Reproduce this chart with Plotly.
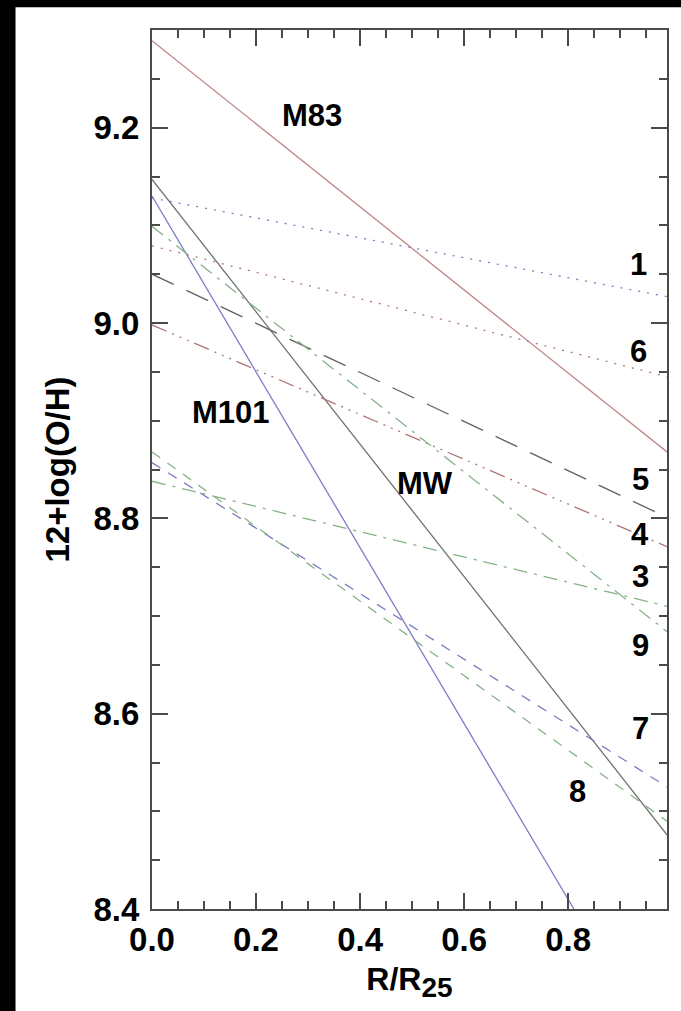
import plotly.graph_objects as go

# ---- data (straight gradients, value at inner and outer radius) ----
x_span = [0.0, 0.99]
m83 = [9.289, 8.868]
mw = [9.147, 8.476]
m101_x = [0.0, 0.811]
m101 = [9.130, 8.40]
g1 = [9.128, 9.027]
g6 = [9.079, 8.945]
g5 = [9.050, 8.801]
g4 = [8.998, 8.771]
g9 = [9.099, 8.684]
g3 = [8.838, 8.710]
g7 = [8.857, 8.525]
g8 = [8.868, 8.490]

label_text = ["M83", "M101", "MW", "1", "6", "5", "4", "3", "9", "7", "8"]
label_x = [0.308, 0.152, 0.524, 0.935, 0.935, 0.939, 0.939, 0.939, 0.939, 0.939, 0.818]
label_y = [9.212, 8.908, 8.836, 9.060, 8.971, 8.840, 8.783, 8.740, 8.670, 8.585, 8.520]

x_ticks = [0.0, 0.2, 0.4, 0.6, 0.8]
y_ticks = [8.4, 8.6, 8.8, 9.0, 9.2]

RED = "#c08585"
GRAY = "#707070"
BLUE = "#7c7cc4"
GREEN = "#86b286"
DRED = "#b07676"
AX = "#4a4a4a"
FONT = "Liberation Sans, Arial"

series = [
    (x_span, m83, RED, "solid"),
    (x_span, mw, GRAY, "solid"),
    (m101_x, m101, BLUE, "solid"),
    (x_span, g1, BLUE, "2px,7px"),
    (x_span, g6, DRED, "2px,7px"),
    (x_span, g5, "#606060", "24px,14px"),
    (x_span, g4, DRED, "16px,6px,2px,6px,2px,6px,2px,6px"),
    (x_span, g9, GREEN, "14px,7px,3px,7px"),
    (x_span, g3, GREEN, "14px,7px,3px,7px"),
    (x_span, g7, BLUE, "10px,9px"),
    (x_span, g8, GREEN, "10px,9px"),
]

fig = go.Figure()
for xs, ys, col, dash in series:
    fig.add_trace(go.Scatter(x=xs, y=ys, mode="lines",
                             line=dict(color=col, width=1.3, dash=dash),
                             showlegend=False, hoverinfo="skip"))

for t, xx, yy in zip(label_text, label_x, label_y):
    fig.add_annotation(x=xx, y=yy, text=t, showarrow=False,
                       font=dict(family=FONT, size=31, color="black", weight="bold"))

# white page area on a black border
fig.add_shape(type="rect", xref="paper", yref="paper", x0=-0.265, x1=1.05, y0=-0.12, y1=1.026,
              fillcolor="white", line=dict(width=0), layer="below")

axis_common = dict(
    showline=True, linecolor=AX, linewidth=2, mirror="ticks",
    ticks="inside", ticklen=16, tickwidth=2, tickcolor=AX,
    showgrid=False, zeroline=False, tickformat=".1f",
    tickfont=dict(family=FONT, size=33, color="black", weight="bold"),
)

fig.update_xaxes(range=[0, 0.99], tickvals=x_ticks,
                 minor=dict(ticks="inside", ticklen=8, tickwidth=2, tickcolor=AX, dtick=0.05, tick0=0),
                 title=dict(text="R/R<sub><span style='font-size:28px'>25</span></sub>", standoff=11,
                            font=dict(family=FONT, size=32, color="black", weight="bold")),
                 **axis_common)
fig.update_yaxes(range=[8.4, 9.3], tickvals=y_ticks,
                 minor=dict(ticks="inside", ticklen=8, tickwidth=2, tickcolor=AX, dtick=0.05, tick0=8.4),
                 ticklabelstandoff=4,
                 title=dict(text="12+log(O/H)", standoff=14,
                            font=dict(family=FONT, size=33, color="black", weight="bold")),
                 **axis_common)

fig.update_layout(width=681, height=1011,
                  margin=dict(l=152, r=14, t=30, b=102),
                  paper_bgcolor="black", plot_bgcolor="white")

fig.write_html("out.html")
